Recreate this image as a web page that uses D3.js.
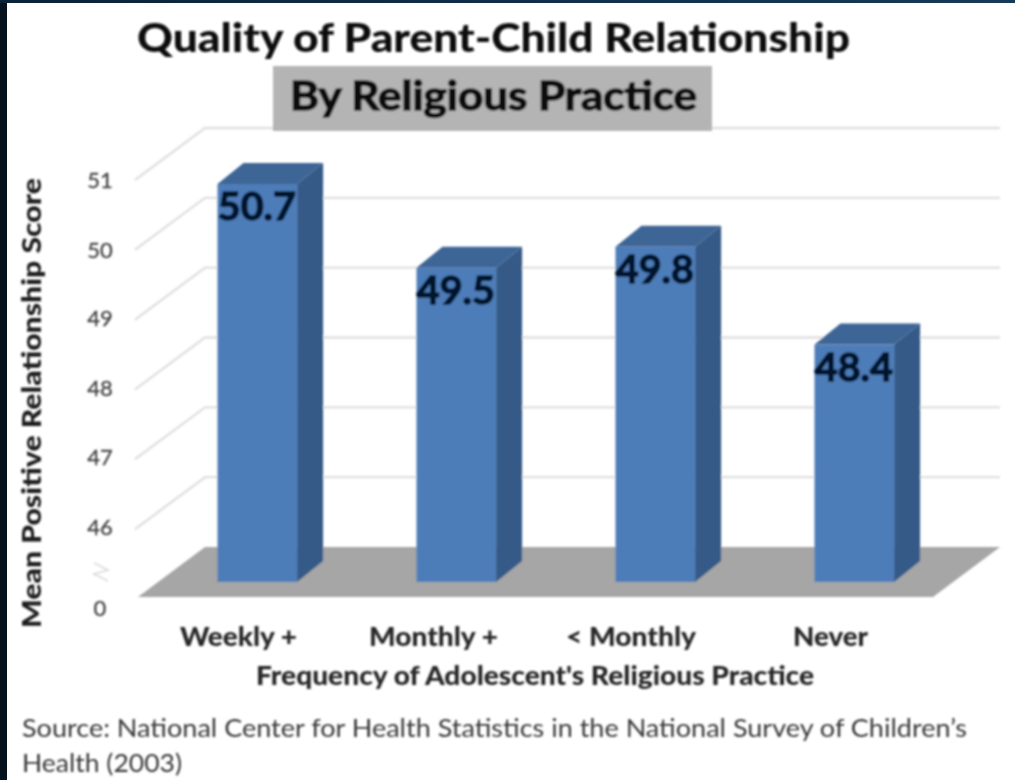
<!DOCTYPE html>
<html><head><meta charset="utf-8">
<script src="https://cdnjs.cloudflare.com/ajax/libs/d3/7.8.5/d3.min.js"></script>
<style>html,body{margin:0;padding:0;background:#06121e;overflow:hidden}svg{display:block}text{font-family:Lato,"Open Sans",sans-serif}</style>
</head><body><div id="c"></div>
<script>
const categories = ["Weekly +", "Monthly +", "< Monthly", "Never"];
const values = [50.7, 49.5, 49.8, 48.4];
const valueLabels = ["50.7", "49.5", "49.8", "48.4"];
const yTicks = [51, 50, 49, 48, 47, 46];
const breakTickLabel = "0";
const titleText = "Quality of Parent-Child Relationship";
const subtitleText = "By Religious Practice";
const yTitle = "Mean Positive Relationship Score";
const xTitle = "Frequency of Adolescent's Religious Practice";
const sourceLines = ["Source:  National Center for Health Statistics in the National Survey of Children\u2019s", "Health (2003)"];
const categoryLabelCenters = [238.5, 433.5, 631, 830.5];
const categoryLabelWidths = [117, 129, 130, 75];
const sourceWidths = [945, 160];

const W = 1015, H = 780;
const svg = d3.select("#c").append("svg").attr("width", W).attr("height", H);
const defs = svg.append("defs");
const bg = defs.append("linearGradient").attr("id","top").attr("x1",0).attr("x2",1);
bg.append("stop").attr("offset",0).attr("stop-color","#0a2238");
bg.append("stop").attr("offset",1).attr("stop-color","#173a58");
defs.append("filter").attr("id","soft").append("feGaussianBlur").attr("stdDeviation",0.8);

svg.append("rect").attr("width",W).attr("height",H).attr("fill","#06121e");
svg.append("rect").attr("width",W).attr("height",3).attr("fill","url(#top)");
svg.append("rect").attr("x",7).attr("y",3).attr("width",W-7).attr("height",H-3).attr("fill","#fff");
const g = svg.append("g").attr("filter","url(#soft)");

const y = d3.scaleLinear().domain([45, 51]).range([547, 128]);
const x = d3.scaleBand().domain(categories).range([157.8, 953.8]).paddingInner(0.6).paddingOuter(0.3);

const gridDx = 70, wallDy = 52, floorDx = 67, floorDy = 50;
const wallLeft = 205, wallRight = 1000;
const barDy = 35;
const sideDx = 26, sideDy = 21;
const fit = (sel, w) => sel.attr("textLength", w).attr("lengthAdjust", "spacingAndGlyphs");
const heavy = (sel, c, w) => sel.attr("stroke", c).attr("stroke-width", w);

g.append("g").selectAll("path").data(yTicks).join("path")
  .attr("d", d => d3.line()([[wallLeft - gridDx, y(d) + wallDy], [wallLeft, y(d)], [wallRight, y(d)]]))
  .attr("fill","none").attr("stroke","#e0e0e0").attr("stroke-width",2.4);

const fy = y(45);
g.append("path").attr("d", d3.line()([[wallLeft, fy],[wallRight, fy],[wallRight - floorDx, fy + floorDy],[wallLeft - floorDx, fy + floorDy]])+"Z").attr("fill","#a6a6a6");

const bars = g.append("g").selectAll("g").data(categories).join("g");
const fx = d => x(d), bw = x.bandwidth();
bars.append("path").attr("fill","#345a88").attr("d",(d,i)=>{
  const r = fx(d)+bw, t = y(values[i])+barDy, b = y(45)+barDy;
  return d3.line()([[r,t],[r+sideDx,t-sideDy],[r+sideDx,b-sideDy],[r,b]])+"Z";
});
bars.append("path").attr("fill","#3c6595").attr("d",(d,i)=>{
  const l = fx(d), r = l+bw, t = y(values[i])+barDy;
  return d3.line()([[l,t],[l+sideDx,t-sideDy],[r+sideDx,t-sideDy],[r,t]])+"Z";
});
bars.append("rect").attr("fill","#4d7db9")
  .attr("x",d=>fx(d)).attr("width",bw)
  .attr("y",(d,i)=>y(values[i])+barDy).attr("height",(d,i)=>y(45)-y(values[i]));
bars.append("text").attr("x",d=>fx(d)+bw/2-0.5).attr("y",(d,i)=>y(values[i])+barDy+36)
  .attr("text-anchor","middle").attr("font-size",38).attr("font-weight",700).attr("fill","#06152f")
  .text((d,i)=>valueLabels[i]).call(fit, 78).call(heavy,"#06152f",1.5);

const tickY = [180, 250, 318, 388, 457, 527];
g.append("g").selectAll("text").data(yTicks).join("text")
  .attr("x",100).attr("y",(d,i)=>tickY[i]+8).attr("text-anchor","middle")
  .attr("font-size",22).attr("fill","#444").text(d=>d).call(heavy,"#444",0.3);
g.append("text").attr("x",100).attr("y",616).attr("text-anchor","middle").attr("font-size",22).attr("fill","#444").text(breakTickLabel).call(heavy,"#444",0.3);
g.append("path").attr("d","M94,563 L108,570 L94,574 L108,581").attr("fill","none").attr("stroke","#dcdcdc").attr("stroke-width",1.8);

g.append("g").selectAll("text").data(categories).join("text")
  .attr("x",(d,i)=>categoryLabelCenters[i]).attr("y",646).attr("text-anchor","middle")
  .attr("font-size",26).attr("font-weight",900).attr("fill","#262626").text(d=>d)
  .each(function(d,i){ d3.select(this).call(fit, categoryLabelWidths[i]); });
g.append("text").attr("x",535).attr("y",685).attr("text-anchor","middle")
  .attr("font-size",26).attr("font-weight",900).attr("fill","#262626").text(xTitle).call(fit,558);
g.append("text").attr("transform","translate(41,403) rotate(-90)").attr("text-anchor","middle")
  .attr("font-size",27).attr("font-weight",900).attr("fill","#1c1c1c").text(yTitle).call(fit,450);

g.append("rect").attr("x",273).attr("y",66).attr("width",439).attr("height",65).attr("fill","#b4b4b4");
g.append("text").attr("x",493.5).attr("y",52).attr("text-anchor","middle").attr("font-size",40).attr("font-weight",900).attr("fill","#111").text(titleText).call(fit,713);
g.append("text").attr("x",493.5).attr("y",110).attr("text-anchor","middle").attr("font-size",40).attr("font-weight",700).attr("fill","#111").text(subtitleText).call(fit,407).call(heavy,"#111",1.4);

g.append("g").selectAll("text").data(sourceLines).join("text")
  .attr("x",22).attr("y",(d,i)=>737+i*35).attr("font-size",25).attr("fill","#383838").text(d=>d)
  .each(function(d,i){ d3.select(this).call(fit, sourceWidths[i]); });
</script></body></html>
